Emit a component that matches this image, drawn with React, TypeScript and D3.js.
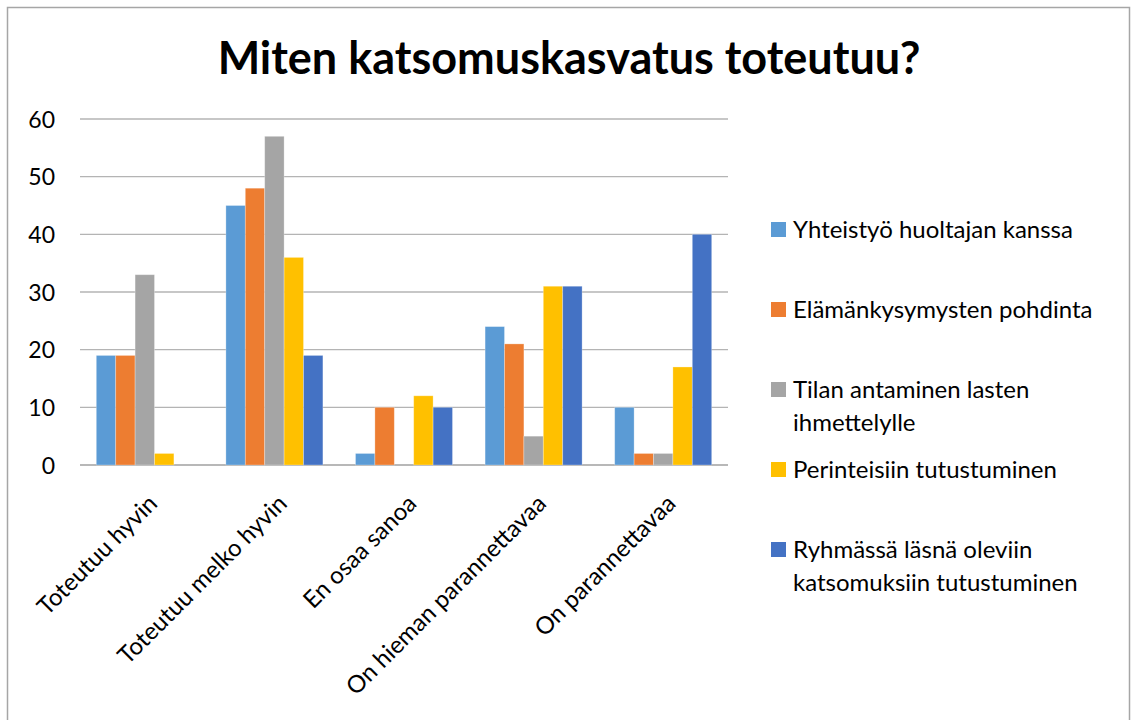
import React from "react";
import * as d3 from "d3";

const categories = [
  "Toteutuu hyvin",
  "Toteutuu melko hyvin",
  "En osaa sanoa",
  "On hieman parannettavaa",
  "On parannettavaa",
];

const seriesNames = [
  ["Yhteistyö huoltajan kanssa"],
  ["Elämänkysymysten pohdinta"],
  ["Tilan antaminen lasten", "ihmettelylle"],
  ["Perinteisiin tutustuminen"],
  ["Ryhmässä läsnä oleviin", "katsomuksiin tutustuminen"],
];

const seriesColors = ["#5b9bd5", "#ed7d31", "#a5a5a5", "#ffc000", "#4472c4"];

// one array per series, in category order
const yhteistyo = [19, 45, 2, 24, 10];
const elamankysymykset = [19, 48, 10, 21, 2];
const tilanAntaminen = [33, 57, 0, 5, 2];
const perinteet = [2, 36, 12, 31, 17];
const ryhmassa = [0, 19, 10, 31, 40];

const seriesValues = [yhteistyo, elamankysymykset, tilanAntaminen, perinteet, ryhmassa];

const yTicks = [0, 10, 20, 30, 40, 50, 60];

const W = 1131;
const H = 720;
const plot = { left: 80, right: 728, top: 119, bottom: 465 };
const font = "Lato, 'Open Sans', sans-serif";

export default function App() {
  const x = d3
    .scaleBand<string>()
    .domain(categories)
    .range([plot.left, plot.right])
    .paddingInner(0)
    .paddingOuter(0);

  const groupPad = 16.3;
  const xInner = d3
    .scaleBand<number>()
    .domain(d3.range(seriesValues.length))
    .range([groupPad, x.bandwidth() - groupPad]);

  const y = d3.scaleLinear().domain([0, 60]).range([plot.bottom, plot.top]);

  // legend entries sit on an 80px grid
  const legendY = d3.scaleLinear().domain([0, 1]).range([238, 318]);

  return (
    <div style={{ position: "absolute", left: 0, top: 0 }}>
      <svg width={W} height={H} style={{ display: "block", background: "#fff" }}>
        <rect
          x={7.5}
          y={7.5}
          width={1122}
          height={H + 10}
          fill="#fff"
          stroke="#a6a6a6"
          strokeWidth={1.5}
        />
        <text
          x={569}
          y={74}
          textAnchor="middle"
          fontFamily={font}
          fontWeight="bold"
          fontSize={45}
          fill="#000"
        >
          Miten katsomuskasvatus toteutuu?
        </text>

        {yTicks.map((t) => (
          <g key={t}>
            <line
              x1={plot.left}
              x2={plot.right}
              y1={y(t)}
              y2={y(t)}
              stroke={t === 0 ? "#a0a0a0" : "#b4b4b4"}
              strokeWidth={1.3}
            />
            <text
              x={55}
              y={y(t) + 8.5}
              textAnchor="end"
              fontFamily={font}
              fontSize={23}
              fill="#000"
            >
              {t}
            </text>
          </g>
        ))}

        {categories.map((c, ci) => (
          <g key={c} transform={`translate(${x(c)},0)`}>
            {seriesValues.map((vals, si) => (
              <rect
                key={si}
                x={xInner(si)}
                y={y(vals[ci])}
                width={xInner.bandwidth()}
                height={y(0) - y(vals[ci])}
                fill={seriesColors[si]}
                stroke="#fff"
                strokeOpacity={0.35}
                strokeWidth={0.8}
              />
            ))}
          </g>
        ))}

        {categories.map((c) => {
          const cx = (x(c) as number) + x.bandwidth() / 2;
          return (
            <text
              key={c}
              transform={`translate(${cx + 14},${plot.bottom + 40}) rotate(-45)`}
              textAnchor="end"
              fontFamily={font}
              fontSize={24}
              fill="#000"
            >
              {c}
            </text>
          );
        })}

        {seriesNames.map((lines, i) => {
          const by = legendY(i);
          return (
            <g key={i}>
              <rect x={771} y={by - 16} width={15} height={15} fill={seriesColors[i]} />
              {lines.map((ln, li) => (
                <text
                  key={li}
                  x={793}
                  y={by + li * 32.5}
                  fontFamily={font}
                  fontSize={24}
                  fill="#000"
                >
                  {ln}
                </text>
              ))}
            </g>
          );
        })}
      </svg>
    </div>
  );
}
